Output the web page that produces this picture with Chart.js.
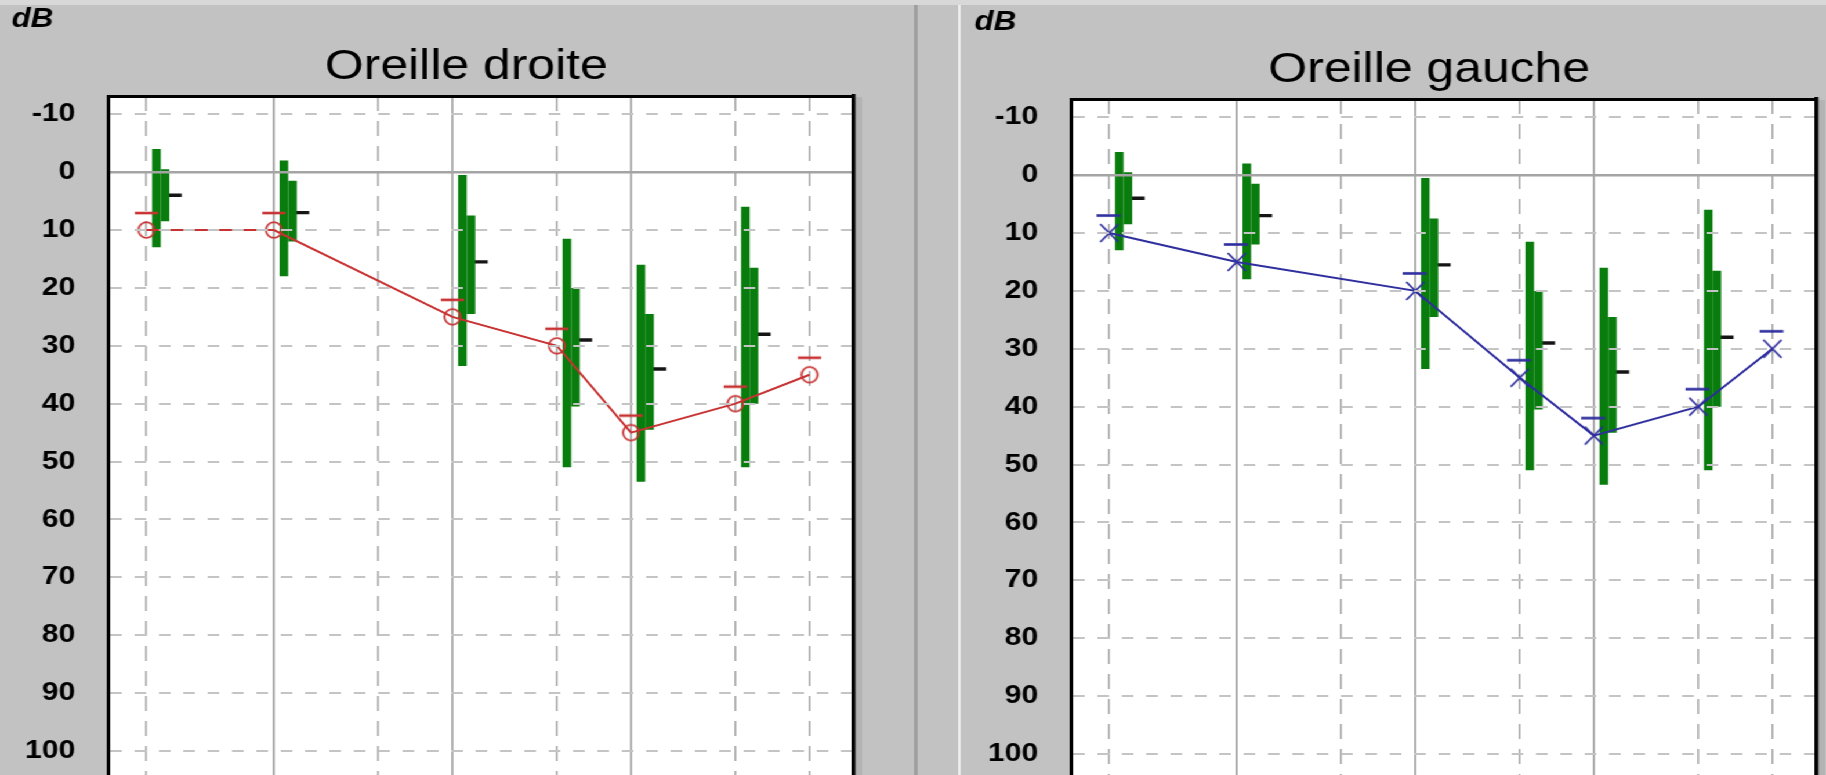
<!DOCTYPE html>
<html lang="fr">
<head>
<meta charset="utf-8">
<title>Audiogramme</title>
<script src="https://cdn.jsdelivr.net/npm/chart.js@4.4.1/dist/chart.umd.min.js"></script>
<style>
  html, body { margin: 0; padding: 0; width: 1826px; height: 775px; overflow: hidden; background: #c2c2c2; }
  #stage { position: absolute; left: 0; top: 0; width: 1574px; height: 775px; overflow: hidden;
           transform: scaleX(1.1601); transform-origin: 0 0; }
  .strip { position: absolute; left: 0; top: 0; width: 100%; height: 5px; background: #d8d8d8; }
  .sep { position: absolute; top: 5px; bottom: 0; left: 788px; width: 3.4px; background: #9d9d9d; }
  .hl { position: absolute; top: 5px; bottom: 0; left: 826px; width: 1.8px; background: #f3f3f3; }
  .shade { position: absolute; bottom: 0; width: 6px; background: #b3b3b3; }
  canvas { position: absolute; }
</style>
</head>
<body>
<div id="stage">
  <div class="strip"></div>
  <div class="sep"></div>
  <div class="hl"></div>
  <div class="shade" style="left:737px; top:97px;"></div>
  <div class="shade" style="left:1567px; top:100px;"></div>
  <canvas id="droite" width="794" height="775" style="left:0; top:0;"></canvas>
  <canvas id="gauche" width="794" height="775" style="left:829.5px; top:3px;"></canvas>
</div>
<script>
// Test frequencies (Hz) and hearing thresholds (dB HL)
const freqs = [250, 500, 1000, 1500, 2000, 3000, 4000];
const rightEar = [10, 10, 25, 30, 45, 40, 35];
const leftEar = [10, 15, 20, 35, 45, 40, 30];

// Reference distribution per frequency: outer range, inner range and median (dB)
const normFreqs = [250, 500, 1000, 1500, 2000, 3000];
const normOuterLow = [-4, -2, 0.5, 11.5, 16, 6];
const normOuterHigh = [13, 18, 33.5, 51, 53.5, 51];
const normInnerLow = [-0.5, 1.5, 7.5, 20, 24.5, 16.5];
const normInnerHigh = [8.5, 12, 24.5, 40.5, 44.5, 40];
const normMedian = [4, 7, 15.5, 29, 34, 28];

// Axis ticks and frequency grid
const dbTicks = [-10, 0, 10, 20, 30, 40, 50, 60, 70, 80, 90, 100];
const octaveLines = [500, 1000, 2000];
const halfOctaveLines = [250, 750, 1500, 3000, 4000];

Chart.defaults.font.family = "'Liberation Sans', Arial, sans-serif";
Chart.defaults.color = '#000';

// Frequency axis: octave spacing from 500 Hz up, a compressed segment below 500 Hz.
class AudiogramScale extends Chart.LinearScale {
  static id = 'audiogram';
  static defaults = {};
  _octave(f) {
    const o = Math.log2(f / this.options.pivot);
    return o < 0 ? o * this.options.lowOctave : o;
  }
  buildTicks() {
    this.start = this.min;
    this.end = this.max;
    return (this.options.lines || []).map(value => ({ value }));
  }
  configure() {
    super.configure();
    this._o0 = this._octave(this.min);
    this._o1 = this._octave(this.max);
  }
  getPixelForValue(value) {
    if (value === null || value === undefined || isNaN(value)) return NaN;
    const d = (this._octave(value) - this._o0) / (this._o1 - this._o0);
    return this.getPixelForDecimal(d) + (this.options.nudge || 0);
  }
  getValueForPixel(pixel) {
    const o = this._o0 + this.getDecimalForPixel(pixel - (this.options.nudge || 0)) * (this._o1 - this._o0);
    return this.options.pivot * Math.pow(2, o < 0 ? o / this.options.lowOctave : o);
  }
}
Chart.register(AudiogramScale);

// White plotting surface
const plotBackground = {
  id: 'plotBackground',
  beforeDraw(chart) {
    const { ctx, chartArea: a } = chart;
    ctx.save();
    ctx.fillStyle = '#ffffff';
    ctx.fillRect(a.left, a.top, a.right - a.left, a.bottom - a.top);
    ctx.restore();
  }
};

// Threshold symbols with their short bar above
function ringMarker(color) {
  const c = document.createElement('canvas');
  c.width = 26; c.height = 50;
  const g = c.getContext('2d');
  g.strokeStyle = color;
  g.lineWidth = 1.8;
  g.beginPath(); g.ellipse(13, 25, 6.9, 7.8, 0, 0, Math.PI * 2); g.stroke();
  g.lineWidth = 2.6;
  g.beginPath(); g.moveTo(3, 8); g.lineTo(23, 8); g.stroke();
  return c;
}
function crossMarker(color) {
  const c = document.createElement('canvas');
  c.width = 26; c.height = 50;
  const g = c.getContext('2d');
  g.strokeStyle = color;
  g.lineWidth = 1.8;
  g.beginPath();
  g.moveTo(13 - 7.8, 25 - 9); g.lineTo(13 + 7.8, 25 + 9);
  g.moveTo(13 + 7.8, 25 - 9); g.lineTo(13 - 7.8, 25 + 9);
  g.stroke();
  g.lineWidth = 2.6;
  g.beginPath(); g.moveTo(2, 7.5); g.lineTo(22.5, 7.5); g.stroke();
  return c;
}

const GREEN = '#087c0c';
const X_MIN = 202.7, X_MAX = 4743;
const Y_MIN = -13.15, Y_MAX = 104.15;

function freqAxis(extra) {
  return Object.assign({
    type: 'audiogram', axis: 'x', min: X_MIN, max: X_MAX, pivot: 500, lowOctave: 0.714,
    offset: false, ticks: { display: false, callback: v => v }
  }, extra);
}

function audiogram(canvasId, title, thresholds, color, marker) {
  return new Chart(document.getElementById(canvasId), {
    type: 'line',
    data: {
      datasets: [
        {
          type: 'line', label: title,
          data: freqs.map((f, i) => ({ x: f, y: thresholds[i] })),
          xAxisID: 'xOct', yAxisID: 'yDb',
          borderColor: color, borderWidth: 2, tension: 0, fill: false,
          pointStyle: marker, pointRadius: 8, order: 0
        },
        {
          type: 'bar', label: 'plage',
          data: normFreqs.map((f, i) => ({ x: f, y: [normOuterLow[i], normOuterHigh[i]] })),
          xAxisID: 'xNorm', yAxisID: 'yDb', stack: 'outer',
          backgroundColor: GREEN, borderWidth: 0, barThickness: 7.4, inflateAmount: 0, order: 1
        },
        {
          type: 'bar', label: 'interquartile',
          data: normFreqs.map((f, i) => ({ x: f, y: [normInnerLow[i], normInnerHigh[i]] })),
          xAxisID: 'xNorm', yAxisID: 'yDb', stack: 'inner',
          backgroundColor: GREEN, borderWidth: 0, barThickness: 7.4, inflateAmount: 0, order: 1
        },
        {
          type: 'bar', label: 'médiane',
          data: normFreqs.map((f, i) => ({ x: f, y: [normMedian[i], normMedian[i]] })),
          xAxisID: 'xNorm', yAxisID: 'yDb', stack: 'median',
          backgroundColor: '#151515', borderWidth: 0, barThickness: 9, inflateAmount: 1.7, order: 1
        }
      ]
    },
    options: {
      responsive: false,
      animation: false,
      events: [],
      layout: { autoPadding: false, padding: { left: 10, top: 0, right: 0, bottom: 0 } },
      plugins: {
        legend: { display: false },
        tooltip: { enabled: false },
        title: {
          display: true, text: 'dB', align: 'start', color: '#000',
          font: { size: 27, weight: 'bold', style: 'italic' },
          padding: { top: 3, bottom: 0 }
        },
        subtitle: {
          display: true, text: title, color: '#000',
          font: { size: 43, weight: 'normal' },
          padding: { top: 6, bottom: 3 }
        }
      },
      scales: {
        xOct: freqAxis({
          position: 'top', lines: octaveLines,
          grid: { color: '#a6a6a6', lineWidth: 1.8, drawTicks: false, offset: false },
          border: { display: true, color: '#000', width: 3 }
        }),
        xHalf: freqAxis({
          position: 'top', lines: halfOctaveLines,
          grid: { color: '#ababab', lineWidth: 1.6, drawTicks: false, offset: false },
          border: { display: false, dash: [15, 10] }
        }),
        xNorm: freqAxis({ position: 'bottom', display: false, nudge: 19.7, lines: [] }),
        yDb: {
          type: 'linear', axis: 'y', position: 'left', reverse: true, min: Y_MIN, max: Y_MAX,
          afterBuildTicks: s => { s.ticks = dbTicks.map(v => ({ value: v })); },
          afterFit: s => { s.width = 83; s.paddingTop = 0; s.paddingBottom = 0; },
          ticks: { color: '#000', font: { size: 26, weight: 'bold' }, padding: 28, autoSkip: false,
                   callback: v => String(v) },
          grid: {
            color: c => (c.tick && c.tick.value === 0) ? 'rgba(0,0,0,0)' : '#c4c4c4',
            lineWidth: 2, drawTicks: false, z: 1
          },
          border: { display: true, color: '#000', width: 3, dash: [10, 11], z: 2 }
        },
        yZero: {
          type: 'linear', axis: 'y', position: 'right', reverse: true, min: Y_MIN, max: Y_MAX,
          afterBuildTicks: s => { s.ticks = [{ value: 0 }]; },
          afterFit: s => { s.width = 58.4; s.paddingTop = 0; s.paddingBottom = 0; },
          ticks: { display: false },
          grid: { color: '#a4a4a4', lineWidth: 2.5, drawTicks: false, z: 1 },
          border: { display: true, color: '#000', width: 3.4, z: 2 }
        }
      }
    },
    plugins: [plotBackground]
  });
}

audiogram('droite', 'Oreille droite', rightEar, '#c83232', ringMarker('#c83232'));
audiogram('gauche', 'Oreille gauche', leftEar, '#2e2e9e', crossMarker('#2e2e9e'));
</script>
</body>
</html>
